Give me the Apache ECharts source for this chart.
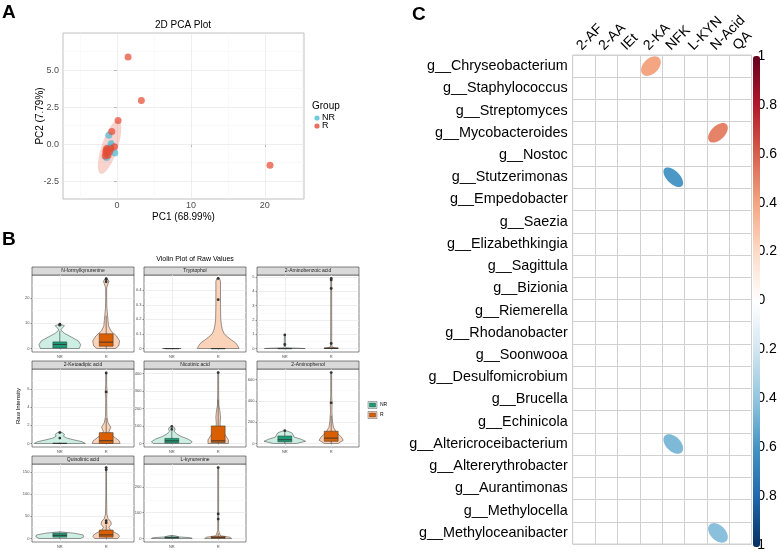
<!DOCTYPE html>
<html><head><meta charset="utf-8">
<script src="https://cdn.jsdelivr.net/npm/echarts@6/dist/echarts.min.js"></script>
<style>html,body{margin:0;padding:0;background:#fff}#c{width:780px;height:552px}</style>
</head><body><div id="c"></div><script>
// ================= Panel A : PCA =================
const pcaGroups = ['NR', 'R'];
const pcaNR = [[-1.1,0.6],[-0.8,0.03],[-0.3,-0.6],[-1.2,-0.3],[-1.0,-0.5],[-1.3,-0.7],[-0.9,-0.2],[-1.4,-0.9]];
const pcaR = [[1.5,5.88],[3.3,2.95],[20.7,-1.43],[0.15,1.6],[-0.7,0.86],[-0.35,-0.18],[-1.3,-0.4],[-1.5,-0.6],[-1.2,-0.75],[-1.6,-0.8],[-1.0,-0.5],[-1.4,-0.3],[-0.8,-0.3],[-1.5,-0.45]];
const pcaXTicks = [0, 10, 20];
const pcaXMinor = [-5, 5, 15, 25];
const pcaYTicks = [-2.5, 0, 2.5, 5];
const pcaYMinor = [-1.25, 1.25, 3.75, 6.25];
// confidence ellipses: [centerX, centerY, majorVecX, majorVecY, minorVecX, minorVecY]
const ellipseR = [-1.0, -0.2, 1.2, 1.8, 1.03, -0.17];
const ellipseNR = [-0.95, -0.3, 0.35, 0.6, 0.3, -0.05];

// ================= Panel B : violins =================
const bGroups = ['NR', 'R'];
const facetTitles = ['N-formylkynurenine','Tryptophol','2-Aminobenzoic acid','2-Ketoadipic acid','Nicotinic acid','2-Aminophenol','Quinolinic acid','L-kynurenine'];
const facetTicks = [[0,10,20],[0,0.1,0.2,0.3,0.4],[0,1,2,3,4,5],[0,2,4,6],[0,100,200,300,400],[0,200,400,600],[0,50,100,150],[0,100,200]];
// violin outlines: [value, half width]
const violinNR = [
  [[0,0.42],[1.5,0.45],[3,0.4],[4.5,0.25],[6,0.1],[7.3,0.02],[8,0.05],[9,0.1],[9.6,0]],
  [[0,0.2],[0,0.2]],
  [[0,0.44],[0.02,0.3],[0.05,0.05],[0.1,0.01],[0.3,0.012],[0.95,0.01]],
  [[0,0.55],[0.2,0.48],[0.4,0.3],[0.6,0.15],[0.8,0.08],[1.0,0.1],[1.2,0.05],[1.3,0]],
  [[0,0.4],[10,0.44],[25,0.35],[40,0.2],[55,0.1],[70,0.05],[80,0.07],[90,0.06],[97,0]],
  [[0,0.25],[20,0.45],[40,0.35],[60,0.2],[80,0.18],[100,0.15],[115,0.06],[120,0]],
  [[0,0.45],[4,0.52],[8,0.5],[12,0.3],[15,0]],
  [[0,0.44],[3,0.4],[6,0.15],[10,0.08],[12,0]]
];
const violinR = [
  [[0,0.2],[1,0.27],[3,0.29],[5,0.22],[7,0.1],[9,0.05],[11,0.04],[13,0.03],[16,0.015],[20,0.01],[24,0.012],[25.5,0.04],[26.5,0.06],[27.3,0.03],[27.6,0]],
  [[0,0.45],[0.02,0.42],[0.04,0.37],[0.06,0.28],[0.08,0.2],[0.1,0.13],[0.13,0.09],[0.16,0.07],[0.2,0.055],[0.3,0.05],[0.4,0.05],[0.46,0.05],[0.48,0.03]],
  [[0,0.15],[0.03,0.1],[0.1,0.02],[0.3,0.012],[4.9,0.01]],
  [[0,0.3],[0.3,0.28],[0.8,0.15],[1.3,0.06],[1.8,0.1],[2.3,0.04],[3,0.015],[5,0.01],[5.7,0.02],[6.5,0.01],[7.85,0.01]],
  [[0,0.22],[20,0.22],[50,0.15],[80,0.07],[110,0.04],[150,0.05],[180,0.04],[220,0.015],[300,0.01],[405,0.01]],
  [[0,0.15],[30,0.26],[60,0.22],[100,0.12],[150,0.05],[200,0.03],[300,0.015],[380,0.02],[450,0.01],[665,0.01]],
  [[0,0.25],[5,0.29],[10,0.25],[18,0.1],[25,0.06],[32,0.11],[38,0.1],[45,0.04],[55,0.015],[100,0.008],[160,0.008]],
  [[0,0.29],[5,0.25],[10,0.05],[30,0.01],[275,0.01]]
];
// box stats: [min, q1, median, q3, max]
const boxNR = [[0,0.2,1.6,2.6,7],[0,0,0,0,0],[0,0,0,0,0],[0,0,0,0.03,0.1],[0,3,15,29,70],[0,15,35,70,120],[0,3,7,12,15],[0,1,3,6,12]];
const boxR = [[0,0.9,2.5,5.8,13],[0,0,0,0,0],[0,0,0,0.05,0.1],[0,0,0.3,1.2,2.8],[0,5,15,100,250],[0,20,50,115,260],[0,3,8,19,30],[0,1,3,8,20]];
const outNR = [[9.2,9.6],[],[0.28,0.95],[0.6,1.2],[80,97],[120],[],[]];
const outR = [[26.3,27.2,27.5],[0.335,0.48],[0.35,4.2,4.8,4.9],[5.7,7.8],[405],[381,665],[35,40,155,160],[75,95,275]];

// ================= Panel C : correlation =================
const corrRows = ['g__Chryseobacterium','g__Staphylococcus','g__Streptomyces','g__Mycobacteroides','g__Nostoc','g__Stutzerimonas','g__Empedobacter','g__Saezia','g__Elizabethkingia','g__Sagittula','g__Bizionia','g__Riemerella','g__Rhodanobacter','g__Soonwooa','g__Desulfomicrobium','g__Brucella','g__Echinicola','g__Altericroceibacterium','g__Altererythrobacter','g__Aurantimonas','g__Methylocella','g__Methyloceanibacter'];
const corrCols = ['2-AF','2-AA','IEt','2-KA','NFK','L-KYN','N-Acid','QA'];
// [colIndex, rowIndex, r]
const corrCells = [[3,0,0.4],[6,3,0.5],[4,5,-0.58],[4,17,-0.45],[6,21,-0.42]];
const corrTicks = [-1,-0.8,-0.6,-0.4,-0.2,0,0.2,0.4,0.6,0.8,1];

// ---------------------------------------------------------------
const FONT = '"Liberation Sans", Arial, sans-serif';
const colNR = '#4DBBD5', colR = '#E64B35';
const chart = echarts.init(document.getElementById('c'));

const grids = [], xAxes = [], yAxes = [], series = [], graphics = [];

// ---- Panel A ----
grids.push({left:63, top:33, width:241, height:166, show:true, borderColor:'#b0b0b0', borderWidth:0.8});
xAxes.push({gridIndex:0, type:'value', min:-7.3, max:25.3,
  axisLine:{show:false}, splitLine:{show:false},
  axisTick:{show:true, customValues:pcaXTicks, length:3, lineStyle:{color:'#555'}},
  axisLabel:{customValues:pcaXTicks, fontSize:9, color:'#4d4d4d', fontFamily:FONT, margin:2},
  name:'PC1 (68.99%)', nameLocation:'middle', nameGap:13, nameMoveOverlap:false, nameTextStyle:{fontSize:10, color:'#000', fontFamily:FONT}});
yAxes.push({gridIndex:0, type:'value', min:-3.7, max:7.5,
  axisLine:{show:false}, splitLine:{show:false},
  axisTick:{show:true, customValues:pcaYTicks, length:3, lineStyle:{color:'#555'}},
  axisLabel:{customValues:pcaYTicks, fontSize:9, color:'#4d4d4d', fontFamily:FONT, margin:4, formatter:v=>v.toFixed(1)},
  name:'PC2 (7.79%)', nameLocation:'middle', nameGap:18, nameMoveOverlap:false, nameTextStyle:{fontSize:10, color:'#000', fontFamily:FONT}});

function gridLinesMark(xMaj, xMin, yMaj, yMin){
  const d = [];
  xMin.forEach(v=>d.push({xAxis:v, lineStyle:{color:'#f4f4f4', width:0.5, type:'solid'}}));
  yMin.forEach(v=>d.push({yAxis:v, lineStyle:{color:'#f4f4f4', width:0.5, type:'solid'}}));
  xMaj.forEach(v=>d.push({xAxis:v, lineStyle:{color:'#e6e6e6', width:0.7, type:'solid'}}));
  yMaj.forEach(v=>d.push({yAxis:v, lineStyle:{color:'#e6e6e6', width:0.7, type:'solid'}}));
  return {silent:true, symbol:'none', label:{show:false}, z:1, animation:false, data:d};
}
series.push({type:'line', xAxisIndex:0, yAxisIndex:0, data:[], z:1, silent:true,
  markLine:gridLinesMark(pcaXTicks, pcaXMinor, pcaYTicks, pcaYMinor)});

function ellipseSeries(p, color, xi, yi){
  return {type:'custom', xAxisIndex:xi, yAxisIndex:yi, z:2, silent:true, data:[[p[0],p[1]]],
    renderItem:(params, api)=>{
      const pts = [];
      for(let i=0;i<80;i++){ const t = 2*Math.PI*i/80;
        pts.push(api.coord([p[0]+Math.cos(t)*p[2]+Math.sin(t)*p[4], p[1]+Math.cos(t)*p[3]+Math.sin(t)*p[5]])); }
      return {type:'polygon', shape:{points:pts}, style:{fill:color, opacity:0.24, stroke:'none'}};
    }};
}
series.push(ellipseSeries(ellipseNR, colNR, 0, 0));
series.push(ellipseSeries(ellipseR, colR, 0, 0));
series.push({type:'scatter', name:'NR', xAxisIndex:0, yAxisIndex:0, data:pcaNR, symbolSize:7, z:3,
  itemStyle:{color:colNR, opacity:0.72}});
series.push({type:'scatter', name:'R', xAxisIndex:0, yAxisIndex:0, data:pcaR, symbolSize:7, z:3,
  itemStyle:{color:colR, opacity:0.72}});

// ---- Panel B ----
const bColX = [32, 144, 257], bW = 102;
const bRowY = [[267,275,77],[361,369,78],[456,464,78]];
const vFill = ['#cdeee2', '#fbd3b9'], bFill = ['#1b9e77', '#d95f02'];

facetTitles.forEach((title, f)=>{
  const gi = grids.length;
  const ci = f % 3, ri = Math.floor(f / 3);
  const left = bColX[ci], rowSpec = bRowY[ri];
  grids.push({left:left, top:rowSpec[1], width:bW, height:rowSpec[2], show:true, borderColor:'#333', borderWidth:0.6});
  let lo = Infinity, hi = -Infinity;
  [violinNR[f], violinR[f]].forEach(pr=>pr.forEach(p=>{lo=Math.min(lo,p[0]);hi=Math.max(hi,p[0]);}));
  [boxNR[f], boxR[f], outNR[f], outR[f]].forEach(a=>a.forEach(v=>{lo=Math.min(lo,v);hi=Math.max(hi,v);}));
  const pad = (hi-lo)*0.05;
  const ymin = lo-pad, ymax = hi+pad;
  const ticks = facetTicks[f];
  const step = ticks[1]-ticks[0];
  const minor = [];
  for(let v=ticks[0]-step/2; v<=ymax; v+=step){ if(v>=ymin) minor.push(v); }
  xAxes.push({gridIndex:gi, type:'value', min:0.4, max:2.6, axisLine:{show:false}, splitLine:{show:false},
    axisTick:{show:true, customValues:[1,2], length:1.5, lineStyle:{color:'#333', width:0.5}},
    axisLabel:{customValues:[1,2], fontSize:4, color:'#4d4d4d', fontFamily:FONT, margin:2.5, formatter:v=>bGroups[Math.round(v)-1]}});
  yAxes.push({gridIndex:gi, type:'value', min:ymin, max:ymax, axisLine:{show:false}, splitLine:{show:false},
    axisTick:{show:true, customValues:ticks, length:1.5, lineStyle:{color:'#333', width:0.5}},
    axisLabel:{customValues:ticks, fontSize:4, color:'#4d4d4d', fontFamily:FONT, margin:2.5}});
  series.push({type:'line', xAxisIndex:gi, yAxisIndex:gi, data:[], z:1, silent:true,
    markLine:gridLinesMark([1,2], [], ticks, minor)});
  series.push({type:'custom', xAxisIndex:gi, yAxisIndex:gi, z:3, silent:true, data:[[1,0],[2,0]],
    renderItem:(params, api)=>{
      const g = api.value(0), k = g-1;
      const prof = k===0 ? violinNR[f] : violinR[f];
      const box = k===0 ? boxNR[f] : boxR[f];
      const outs = k===0 ? outNR[f] : outR[f];
      const ch = [];
      const right = prof.map(p=>api.coord([g+p[1], p[0]]));
      const leftS = prof.slice().reverse().map(p=>api.coord([g-p[1], p[0]]));
      ch.push({type:'polygon', shape:{points:right.concat(leftS)}, style:{fill:vFill[k], stroke:'#333', lineWidth:0.5}});
      const p0 = api.coord([g, box[0]]), p4 = api.coord([g, box[4]]);
      ch.push({type:'line', shape:{x1:p0[0],y1:p0[1],x2:p4[0],y2:p4[1]}, style:{stroke:'#333', lineWidth:0.6}});
      const a = api.coord([g-0.15, box[3]]), b = api.coord([g+0.15, box[1]]);
      ch.push({type:'rect', shape:{x:a[0], y:a[1], width:b[0]-a[0], height:Math.max(b[1]-a[1],0.3)}, style:{fill:bFill[k], stroke:'#333', lineWidth:0.5}});
      const m1 = api.coord([g-0.15, box[2]]), m2 = api.coord([g+0.15, box[2]]);
      ch.push({type:'line', shape:{x1:m1[0],y1:m1[1],x2:m2[0],y2:m2[1]}, style:{stroke:'#333', lineWidth:0.9}});
      outs.forEach(o=>{ const p = api.coord([g, o]); ch.push({type:'circle', shape:{cx:p[0], cy:p[1], r:1.4}, style:{fill:'#333'}}); });
      return {type:'group', children:ch};
    }});
  graphics.push({type:'rect', shape:{x:left, y:rowSpec[0], width:bW, height:rowSpec[1]-rowSpec[0]}, style:{fill:'#d9d9d9', stroke:'#333', lineWidth:0.6}});
  graphics.push({type:'text', x:left+bW/2, y:(rowSpec[0]+rowSpec[1])/2, style:{text:title, fontSize:5, fill:'#1a1a1a', fontFamily:FONT, align:'center', verticalAlign:'middle'}});
});

// ---- Panel C ----
const cGi = grids.length;
grids.push({left:572.7, top:55, width:178.8, height:489, show:true, borderColor:'#d0d0d0', borderWidth:1});
xAxes.push({gridIndex:cGi, type:'category', data:corrCols, position:'top', boundaryGap:true,
  axisLine:{show:false}, axisTick:{show:false},
  axisLabel:{interval:0, rotate:-45, align:'left', verticalAlign:'bottom', fontSize:14, color:'#000', fontFamily:FONT, margin:2},
  splitLine:{show:true, interval:0, lineStyle:{color:'#d0d0d0', width:1}}});
yAxes.push({gridIndex:cGi, type:'category', data:corrRows, inverse:true, boundaryGap:true,
  axisLine:{show:false}, axisTick:{show:false},
  axisLabel:{interval:0, fontSize:14.4, color:'#000', fontFamily:FONT, margin:5},
  splitLine:{show:true, interval:0, lineStyle:{color:'#d0d0d0', width:1}}});
const corrSeriesIndex = series.length;
series.push({type:'custom', xAxisIndex:cGi, yAxisIndex:cGi, z:3, silent:true, data:corrCells,
  renderItem:(params, api)=>{
    const c = api.coord([api.value(0), api.value(1)]);
    const s = api.size([1,1]);
    const r = api.value(2), d = Math.acos(r);
    const pts = [];
    for(let i=0;i<99;i++){ const k = 2*Math.PI*i/99;
      pts.push([c[0]+Math.cos(k+d/2)/2*0.88*s[0], c[1]-Math.cos(k-d/2)/2*0.88*s[1]]); }
    return {type:'polygon', shape:{points:pts}, style:{fill:api.visual('color'), stroke:'none'}};
  }});

// colorbar axis
const cbGi = grids.length;
grids.push({left:753, top:56, width:7, height:491, show:false});
xAxes.push({gridIndex:cbGi, type:'value', show:false, min:0, max:1});
const fmtCb = v=>(Math.round(v*10)/10).toString();
yAxes.push({gridIndex:cbGi, type:'value', min:-1, max:1, position:'right',
  axisLine:{show:false}, axisTick:{show:false}, splitLine:{show:false},
  axisLabel:{customValues:corrTicks, fontSize:14, color:'#000', fontFamily:FONT, margin:0, formatter:v=>v>=0?fmtCb(v):''}});
yAxes.push({gridIndex:cbGi, type:'value', min:-1, max:1, position:'right',
  axisLine:{show:false}, axisTick:{show:false}, splitLine:{show:false},
  axisLabel:{customValues:corrTicks, fontSize:14, color:'#000', fontFamily:FONT, margin:-5, formatter:v=>v<0?fmtCb(v):''}});

// ---- text / decorations ----
graphics.push({type:'text', x:2, y:3, style:{text:'A', fontSize:19, fontWeight:'bold', fill:'#000', fontFamily:FONT}});
graphics.push({type:'text', x:2, y:230, style:{text:'B', fontSize:19, fontWeight:'bold', fill:'#000', fontFamily:FONT}});
graphics.push({type:'text', x:412, y:5, style:{text:'C', fontSize:19, fontWeight:'bold', fill:'#000', fontFamily:FONT}});
graphics.push({type:'text', x:183, y:25, style:{text:'2D PCA Plot', fontSize:10, fill:'#000', fontFamily:FONT, align:'center', verticalAlign:'middle'}});
graphics.push({type:'text', x:312, y:106.5, style:{text:'Group', fontSize:10, fill:'#000', fontFamily:FONT, verticalAlign:'middle'}});
pcaGroups.forEach((g,i)=>{
  graphics.push({type:'circle', shape:{cx:317, cy:118+i*8, r:2.6}, style:{fill:i===0?colNR:colR, opacity:0.8}});
  graphics.push({type:'text', x:322, y:118+i*8, style:{text:g, fontSize:9, fill:'#000', fontFamily:FONT, verticalAlign:'middle'}});
});
graphics.push({type:'text', x:195, y:259, style:{text:'Violin Plot of Raw Values', fontSize:7, fill:'#000', fontFamily:FONT, align:'center', verticalAlign:'middle'}});
graphics.push({type:'text', x:18, y:406, rotation:Math.PI/2, style:{text:'Raw Intensity', fontSize:6, fill:'#000', fontFamily:FONT, align:'center', verticalAlign:'middle'}});
bGroups.forEach((g,i)=>{
  const y = 401.5 + i*10;
  graphics.push({type:'rect', shape:{x:368, y:y, width:9, height:7}, style:{fill:vFill[i], stroke:'#333', lineWidth:0.4}});
  graphics.push({type:'rect', shape:{x:369.5, y:y+1.5, width:6, height:4}, style:{fill:bFill[i], stroke:'#333', lineWidth:0.4}});
  graphics.push({type:'text', x:380, y:y+3.5, style:{text:g, fontSize:5, fill:'#000', fontFamily:FONT, verticalAlign:'middle'}});
});

chart.setOption({
  animation:false,
  backgroundColor:'#fff',
  textStyle:{fontFamily:FONT},
  grid:grids, xAxis:xAxes, yAxis:yAxes, series:series,
  visualMap:{type:'continuous', seriesIndex:corrSeriesIndex, dimension:2, min:-1, max:1,
    left:753, top:56, itemWidth:7, itemHeight:491, padding:0, calculable:false, text:null, showLabel:false,
    inRange:{color:['#053061','#2166AC','#4393C3','#92C5DE','#D1E5F0','#FFFFFF','#FDDBC7','#F4A582','#D6604D','#B2182B','#67001F']}},
  graphic:{elements:graphics}
});
</script></body></html>
